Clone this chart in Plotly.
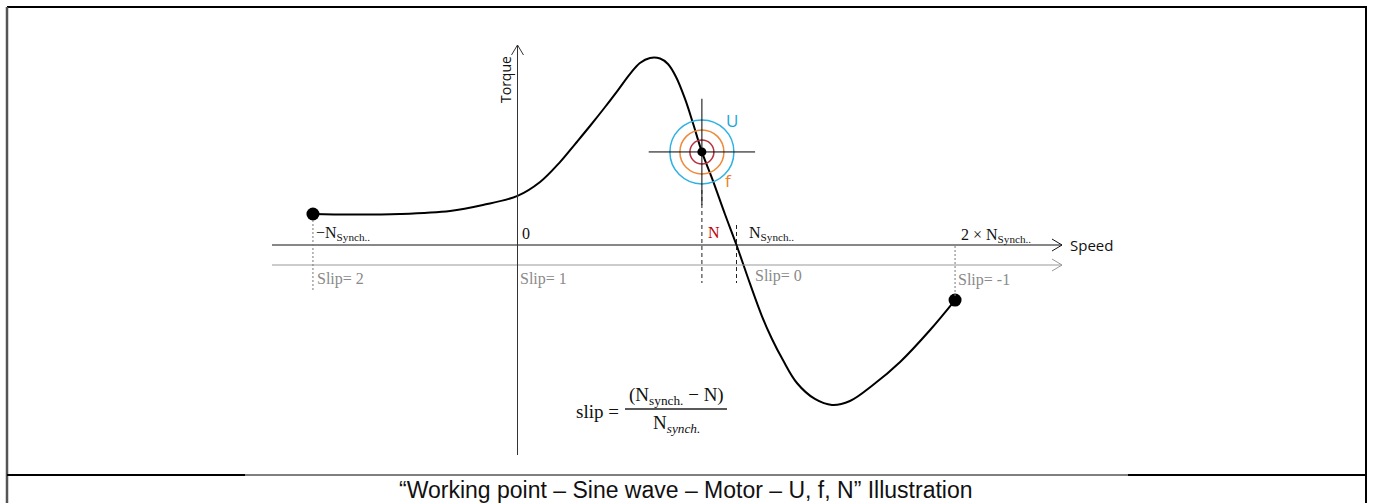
import plotly.graph_objects as go

W, H = 1373, 503

# ---------------- data (speed in units of N_synch, torque in units of breakdown torque) -------------
curve_speed = [-0.934, -0.765, -0.537, -0.308, -0.158, 0.0, 0.103, 0.194, 0.263, 0.331, 0.400,
               0.459, 0.514, 0.559, 0.605, 0.651, 0.687, 0.724, 0.765, 0.801, 0.842, 0.893,
               0.947, 1.0, 1.062, 1.116, 1.162, 1.212, 1.276, 1.358, 1.436, 1.518, 1.623,
               1.747, 1.884, 1.998]
curve_torque = [0.165, 0.162, 0.165, 0.181, 0.213, 0.261, 0.335, 0.441, 0.537, 0.633, 0.734,
                0.824, 0.910, 0.968, 0.995, 0.992, 0.963, 0.894, 0.777, 0.649, 0.495, 0.340,
                0.165, 0.0, -0.207, -0.378, -0.500, -0.612, -0.734, -0.819, -0.851, -0.830,
                -0.745, -0.622, -0.452, -0.293]

end_speed = [-0.934, 1.998]
end_torque = [0.165, -0.293]

work_speed = [0.842]
work_torque = [0.495]

speed_tick_vals = [-0.934, 0.0, 0.842, 1.0, 2.0]
speed_tick_text = ["\u2212N<sub>Synch..</sub>", "0", "N", "N<sub>Synch..</sub>", "2 \u00d7 N<sub>Synch..</sub>"]
speed_tick_color = ["#111111", "#111111", "#c00000", "#111111", "#111111"]

slip_tick_vals = [-0.934, 0.0, 1.0, 2.0]
slip_tick_text = ["Slip= 2", "Slip= 1", "Slip= 0", "Slip= -1"]

ring_sizes = [64, 44, 24]
ring_colors = ["#2fb1e3", "#ee8a3c", "#b8323f"]

caption = "\u201cWorking point \u2013 Sine wave \u2013 Motor \u2013 U, f, N\u201d Illustration"

# ---------------- layout constants (pixels) ----------------
X0, KX = 517.5, 219.0   # px of speed 0, px per N_synch
Y0, KY = 245.0, 188.0   # px of torque 0, px per unit torque


def px(x):
    return x / W


def py(y):
    return 1 - y / H


fig = go.Figure()

# torque-speed curve
fig.add_trace(go.Scatter(x=curve_speed, y=curve_torque, mode="lines",
                         line=dict(color="black", width=2, shape="spline", smoothing=1.0),
                         hoverinfo="skip"))
# end points
fig.add_trace(go.Scatter(x=end_speed, y=end_torque, mode="markers",
                         marker=dict(color="black", size=13), hoverinfo="skip"))
# U / f rings at working point
for s, c in zip(ring_sizes, ring_colors):
    fig.add_trace(go.Scatter(x=work_speed, y=work_torque, mode="markers",
                             marker=dict(symbol="circle-open", size=s, color=c,
                                         line=dict(color=c, width=1.5)),
                             hoverinfo="skip"))
# crosshair
fig.add_trace(go.Scatter(x=work_speed, y=work_torque, mode="markers",
                         marker=dict(symbol="cross-thin-open", size=76, color="black",
                                     line=dict(color="black", width=1)),
                         hoverinfo="skip"))
# working point
fig.add_trace(go.Scatter(x=work_speed, y=work_torque, mode="markers",
                         marker=dict(color="black", size=9), hoverinfo="skip"))

shapes = []


def pline(x0, y0, x1, y1, color="black", width=1, dash=None):
    d = dict(type="line", xref="paper", yref="paper", x0=px(x0), y0=py(y0), x1=px(x1), y1=py(y1),
             line=dict(color=color, width=width))
    if dash:
        d["line"]["dash"] = dash
    shapes.append(d)


def chevron(points, color):
    path = "M " + " L ".join(f"{px(a)},{py(b)}" for a, b in points)
    shapes.append(dict(type="path", xref="paper", yref="paper", path=path,
                       line=dict(color=color, width=1)))


# frame
pline(7, 7, 1367, 7, width=2)
pline(7, 7, 7, 503, color="#555555", width=2.5)
pline(1366, 7, 1366, 503, width=2)
pline(7, 475, 245, 475, width=2.2)
pline(245, 475, 1128, 475, width=1)
pline(1128, 475, 1366, 475, width=2.2)

# speed axis and slip axis
SLIP_Y = 265
pline(272, Y0, 1062, Y0, color="#111111", width=1)
chevron([(1052, Y0 - 6), (1062, Y0), (1052, Y0 + 6)], "#111111")
pline(272, SLIP_Y, 1062, SLIP_Y, color="#999999", width=1)
chevron([(1052, SLIP_Y - 6), (1062, SLIP_Y), (1052, SLIP_Y + 6)], "#999999")

# torque axis
pline(X0, 45, X0, 455, color="#333333", width=1)
chevron([(X0 - 6, 55), (X0, 45), (X0 + 6, 55)], "#333333")


# guide lines at the speed marks
def vguide(speed, y0, y1, color, dash):
    shapes.append(dict(type="line", xref="x", yref="paper", x0=speed, x1=speed,
                       y0=py(y0), y1=py(y1), line=dict(color=color, width=1, dash=dash)))


vguide(end_speed[0], 220, 290, "#777777", "2px,2px")
vguide(end_speed[1], 246, 296, "#777777", "2px,2px")
vguide(work_speed[0], 190, 283, "#222222", "4px,3px")
vguide(speed_tick_vals[3], 225, 283, "#222222", "4px,3px")

# fraction bar of the slip formula
pline(625, 409, 727, 409, color="#222222", width=1.3)

annotations = []
serif = "Liberation Serif"
# speed labels
lab_y = [233, 233, 232, 233, 235]
lab_shift = [1, 2, 4, 10, 3]
for v, t, c, yy, sh in zip(speed_tick_vals, speed_tick_text, speed_tick_color, lab_y, lab_shift):
    annotations.append(dict(x=v, y=py(yy), xref="x", yref="paper", text=t, showarrow=False,
                            xanchor="left", yanchor="middle", xshift=sh,
                            font=dict(family=serif, size=16, color=c)))
# slip labels
slip_y = [279, 279, 276, 280]
slip_shift = [2, 0, 16, 0]
for v, t, yy, sh in zip(slip_tick_vals, slip_tick_text, slip_y, slip_shift):
    annotations.append(dict(x=v, y=py(yy), xref="x", yref="paper", text=t, showarrow=False,
                            xanchor="left", yanchor="middle", xshift=sh,
                            font=dict(family=serif, size=16, color="#8a8a8a")))

sans = "Open Sans"
annotations += [
    dict(x=px(1068), y=py(245), xref="paper", yref="paper", text="Speed", showarrow=False,
         xanchor="left", yanchor="middle", font=dict(family=sans, size=15, color="#111111")),
    dict(x=px(505), y=py(80), xref="paper", yref="paper", text="Torque", showarrow=False,
         textangle=-90, xanchor="center", yanchor="middle",
         font=dict(family=sans, size=14, color="#111111")),
    dict(x=px(732), y=py(121), xref="paper", yref="paper", text="U", showarrow=False,
         xanchor="center", yanchor="middle", font=dict(family=sans, size=17, color="#1ea5d8")),
    dict(x=px(729), y=py(180), xref="paper", yref="paper", text="f", showarrow=False,
         xanchor="center", yanchor="middle", font=dict(family=sans, size=17, color="#e8822a")),
    # formula
    dict(x=px(621), y=py(411), xref="paper", yref="paper", text="slip =", showarrow=False,
         xanchor="right", yanchor="middle", font=dict(family=serif, size=19, color="#111111")),
    dict(x=px(676), y=py(396), xref="paper", yref="paper",
         text="(N<sub>synch.</sub> \u2212 N)", showarrow=False,
         xanchor="center", yanchor="middle", font=dict(family=serif, size=19, color="#111111")),
    dict(x=px(676), y=py(424), xref="paper", yref="paper",
         text="N<sub><i>synch.</i></sub>", showarrow=False,
         xanchor="center", yanchor="middle", font=dict(family=serif, size=19, color="#111111")),
    # caption
    dict(x=px(686), y=py(490), xref="paper", yref="paper", text=caption, showarrow=False,
         xanchor="center", yanchor="middle",
         font=dict(family="Liberation Sans", size=23, color="#111111")),
]

fig.update_layout(
    width=W, height=H, autosize=False,
    margin=dict(l=0, r=0, t=0, b=0),
    paper_bgcolor="white", plot_bgcolor="white",
    showlegend=False,
    xaxis=dict(range=[(0 - X0) / KX, (W - X0) / KX], visible=False, fixedrange=True),
    yaxis=dict(range=[(Y0 - H) / KY, Y0 / KY], visible=False, fixedrange=True),
    shapes=shapes, annotations=annotations,
)

fig.write_html("out.html", config={"displayModeBar": False},
               post_script="document.body.style.margin='0';document.body.style.overflow='hidden';")
